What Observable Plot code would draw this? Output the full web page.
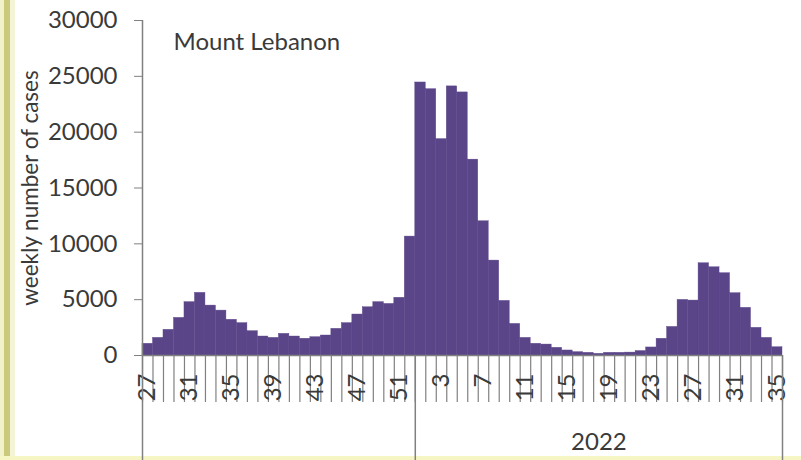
<!DOCTYPE html>
<html>
<head>
<meta charset="utf-8">
<script src="https://cdn.jsdelivr.net/npm/d3@7"></script>
<script src="https://cdn.jsdelivr.net/npm/@observablehq/plot@0.6"></script>
<style>
  html, body { margin: 0; padding: 0; background: #ffffff; }
  #wrap { position: relative; width: 801px; height: 460px; overflow: hidden; background: #ffffff; }
  #wrap svg { position: absolute; left: 0; top: 0; }
  .stripeL1 { position: absolute; left: 0; top: 0; width: 4px; height: 460px; background: #f1f2c9; }
  .stripeL2 { position: absolute; left: 4px; top: 0; width: 6px; height: 460px; background: #c9ca7c; }
  .stripeL3 { position: absolute; left: 10px; top: 0; width: 5px; height: 460px; background: #f4f5d6; }
  .stripeB { position: absolute; left: 0; top: 456px; width: 801px; height: 4px; background: #f5f6c4; }
</style>
</head>
<body>
<div id="wrap">
  <div class="stripeL1"></div><div class="stripeL2"></div><div class="stripeL3"></div>
  <div class="stripeB"></div>
</div>
<script>
// ---- data ----
const weeks2021 = [27,28,29,30,31,32,33,34,35,36,37,38,39,40,41,42,43,44,45,46,47,48,49,50,51,52];
const cases2021 = [1050,1580,2300,3370,4780,5610,4470,4020,3200,2900,2180,1700,1580,1940,1700,1500,1640,1790,2390,2900,3670,4320,4780,4620,5170,10650];
const weeks2022 = [1,2,3,4,5,6,7,8,9,10,11,12,13,14,15,16,17,18,19,20,21,22,23,24,25,26,27,28,29,30,31,32,33,34,35];
const cases2022 = [24450,23850,19380,24100,23560,17540,12020,8500,4890,2830,1580,1050,980,690,450,300,240,150,240,240,260,400,720,1500,2560,4980,4920,8260,7900,7370,5580,4270,2480,1580,740];
const tickLabels = ["27","31","35","39","43","47","51","3","7","11","15","19","23","27","31","35"];
const yearLabels = ["", "2022"];
const yTicks = [0,5000,10000,15000,20000,25000,30000];

const barColor = "#5b4589";
const axisColor = "#808080";
const textColor = "#3a3a3a";
const font = "Lato, 'Liberation Sans', sans-serif";

const rows = [
  ...weeks2021.map((w, k) => ({week: w, year: 2021, value: cases2021[k]})),
  ...weeks2022.map((w, k) => ({week: w, year: 2022, value: cases2022[k]}))
].map((d, i) => ({...d, i}));

const n = rows.length;                       // 61 weeks
const boundaries = d3.range(n + 1);          // category separators
const labelPos = tickLabels.map((_, k) => k * 4 + 0.5);
const yearBounds = [0, weeks2021.length, n];
const yearPos = [weeks2021.length / 2, weeks2021.length + weeks2022.length / 2];

const chart = Plot.plot({
  width: 801,
  height: 460,
  marginLeft: 142,
  marginRight: 19,
  marginTop: 20,
  marginBottom: 105,
  style: {fontFamily: font, fontSize: "24px", color: textColor, background: "transparent"},
  x: {type: "linear", domain: [0, n], axis: null},
  y: {domain: [0, 30000], axis: null},
  marks: [
    Plot.rectY(rows, {x1: "i", x2: d => d.i + 1, y1: 0, y2: "value", fill: barColor, stroke: barColor, strokeWidth: 0.4}),
    // y axis
    Plot.axisY({ticks: yTicks, tickSize: 8, tickPadding: 17, tickFormat: d => String(d), stroke: axisColor, fill: textColor, fontSize: 24, label: null}),
    Plot.text(["weekly number of cases"], {frameAnchor: "left", textAnchor: "middle", rotate: -90, dx: -112, dy: 0, fill: textColor, fontSize: 22.5}),
    Plot.ruleX([0], {y1: 0, y2: 30000, stroke: axisColor, strokeWidth: 1.5}),
    Plot.ruleY([0], {stroke: axisColor, strokeWidth: 1.5}),
    // week separators
    Plot.axisX({ticks: boundaries, tickSize: 47, tickFormat: () => "", stroke: axisColor, strokeWidth: 1.2, label: null}),
    // week labels
    Plot.axisX({ticks: labelPos, tickSize: 0, tickPadding: 18, tickRotate: -90,
      tickFormat: (d) => tickLabels[Math.round(d - 0.5) / 4], fill: textColor, fontSize: 24, label: null}),
    // year dividers
    Plot.axisX({ticks: yearBounds, tickSize: 105, tickFormat: () => "", stroke: axisColor, strokeWidth: 1.5, label: null}),
    // year labels
    Plot.axisX({ticks: yearPos, tickSize: 0, tickPadding: 77,
      tickFormat: (d) => yearLabels[yearPos.indexOf(d)], fill: textColor, fontSize: 24, label: null}),
    // panel title
    Plot.text(["Mount Lebanon"], {frameAnchor: "top-left", dx: 31, dy: 12, textAnchor: "start", lineAnchor: "top",
      fill: textColor, fontSize: 24})
  ]
});
document.getElementById("wrap").appendChild(chart);
</script>
</body>
</html>
